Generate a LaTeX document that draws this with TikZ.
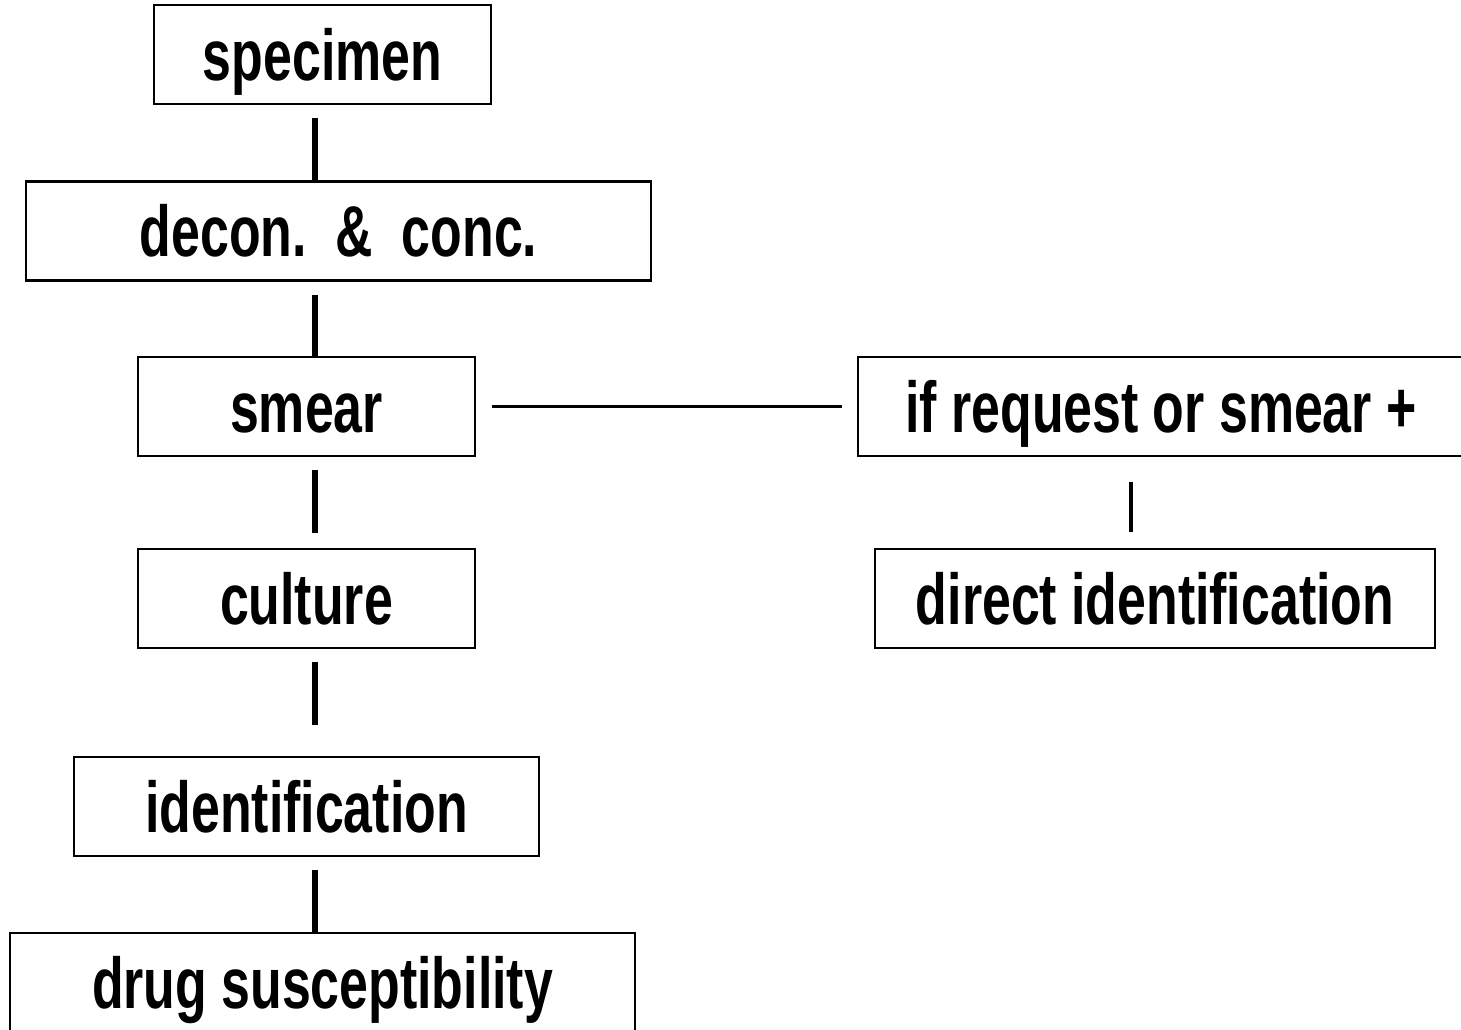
\documentclass[tikz,border=0pt]{standalone}
\usepackage{fontspec}
\setmainfont{Liberation Sans}[FakeStretch=0.72]
\begin{document}
\begin{tikzpicture}[x=1pt,y=-1pt,
  box/.style={draw=black, line width=2.2pt, inner sep=0pt, minimum height=99pt,
    text height=55.5pt, text depth=4.5pt, align=center,
    font=\fontsize{72}{80}\selectfont\bfseries},
  vline/.style={draw=black, line width=5.5pt},
  hline/.style={draw=black, line width=3pt}]
\useasboundingbox (0,0) rectangle (1461,1029);
\node[box, minimum width=337pt] (specimen) at (322.5,54.5) {specimen};
\node[box, minimum width=625pt] (decon) at (338.5,231) {decon.\ \ \&\ \ conc.};
\node[box, minimum width=337pt] (smear) at (306.5,406.5) {smear};
\node[box, minimum width=337pt] (culture) at (306.5,598.5) {culture};
\node[box, minimum width=465pt] (ident) at (306.5,806.5) {identification};
\node[box, minimum width=625pt] (drug) at (322.5,982.5) {drug susceptibility};
\node[box, minimum width=606pt] (ifreq) at (1161,406.5) {if request or smear +};
\node[box, minimum width=560pt] (direct) at (1155,598.5) {direct identification};
\coordinate (c1) at (315,118);
\coordinate (c2) at (315,295);
\coordinate (c3) at (315,470);
\coordinate (c3e) at (315,533);
\coordinate (c4) at (315,662);
\coordinate (c4e) at (315,725);
\coordinate (c5) at (315,870);
\coordinate (c6) at (1131,482);
\coordinate (c6e) at (1131,532);
\coordinate (h1) at (492,406);
\coordinate (h2) at (842,406);
\draw[vline] (c1) -- (c1 |- decon.north);
\draw[vline] (c2) -- (c2 |- smear.north);
\draw[vline] (c3) -- (c3e);
\draw[vline] (c4) -- (c4e);
\draw[vline] (c5) -- (c5 |- drug.north);
\draw[line width=4.5pt] (c6) -- (c6e);
\draw[hline] (h1) -- (h2);
\end{tikzpicture}
\end{document}
